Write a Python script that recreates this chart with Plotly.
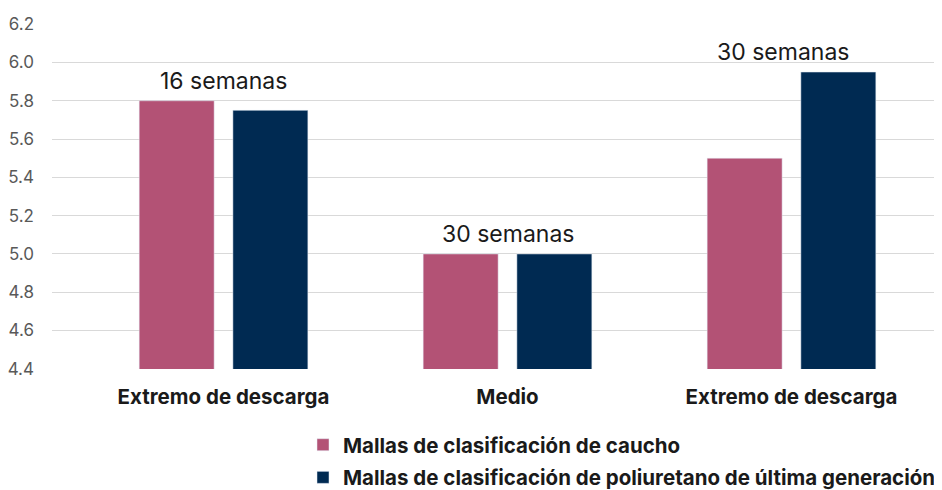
import plotly.graph_objects as go

categories = ["Extremo de descarga", "Medio", "Extremo de descarga"]
caucho = [5.80, 5.00, 5.50]
poliuretano = [5.75, 5.00, 5.95]
annotations_text = ["16 semanas", "30 semanas", "30 semanas"]
series_names = ["Mallas de clasificación de caucho",
                "Mallas de clasificación de poliuretano de última generación"]
y_ticks = [4.4, 4.6, 4.8, 5.0, 5.2, 5.4, 5.6, 5.8, 6.0, 6.2]

xpos = list(range(len(categories)))
FONT = "Inter"

fig = go.Figure()
fig.add_trace(go.Bar(x=xpos, y=caucho, name=series_names[0],
                     marker_color="#B35275", legendgroup="a"))
fig.add_trace(go.Bar(x=xpos, y=poliuretano, name=series_names[1],
                     marker_color="#002A52", legendgroup="b"))

anns = []
for i, t in enumerate(annotations_text):
    top = max(caucho[i], poliuretano[i])
    anns.append(dict(x=xpos[i], y=top, text=t, showarrow=False,
                     yanchor="bottom", yshift=4, xshift=(-8 if i == 2 else 0),
                     font=dict(family=FONT, size=23, color="#1a1a1a")))

# page body has an 8px margin; figure is sized/placed to compensate
W, H = 934, 482
L, T, B = 44, 16, 121
PW = W - L

fig.update_layout(
    width=W, height=H,
    margin=dict(l=L, r=0, t=T, b=B, autoexpand=False),
    paper_bgcolor="white", plot_bgcolor="white",
    barmode="group", bargap=0.34, bargroupgap=0.2,
    annotations=anns,
    showlegend=True,
    legend=dict(orientation="v", x=(295 - L) / PW, xanchor="left",
                y=-0.162, yanchor="top", tracegroupgap=3,
                font=dict(family=FONT, size=20.5, color="#1a1a1a", weight="bold"),
                bgcolor="rgba(0,0,0,0)"),
    font=dict(family=FONT),
)
fig.update_xaxes(range=[-0.604, 2.53], tickvals=xpos, ticktext=categories,
                 showgrid=False, zeroline=False, showline=False,
                 ticks="", ticklabelstandoff=13,
                 tickfont=dict(family=FONT, size=20.5, color="#1a1a1a", weight="bold"))
fig.update_yaxes(range=[4.399, 6.201], tickvals=y_ticks,
                 ticktext=[f"{v:.1f}" for v in y_ticks],
                 showgrid=True, gridcolor="#d9d9d9", gridwidth=1,
                 zeroline=False, showline=False, ticks="",
                 ticklabelstandoff=17,
                 tickfont=dict(family=FONT, size=17, color="#595959"))

fig.write_html("out.html")
